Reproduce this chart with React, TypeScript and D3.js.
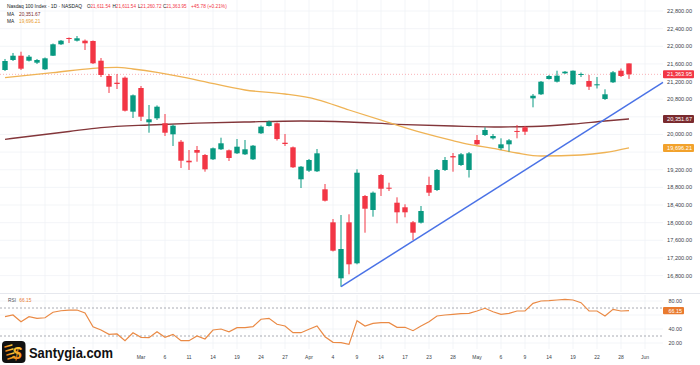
import React from 'react';
import * as d3 from 'd3';

// trading days shown (2025)
const dates = [
  '02-05', '02-06', '02-07', '02-10', '02-11', '02-12', '02-13', '02-14', '02-18', '02-19', '02-20', '02-21',
  '02-24', '02-25', '02-26', '02-27', '02-28',
  '03-03', '03-04', '03-05', '03-06', '03-07', '03-10', '03-11', '03-12', '03-13', '03-14', '03-17', '03-18',
  '03-19', '03-20', '03-21', '03-24', '03-25', '03-26', '03-27', '03-28', '03-31',
  '04-01', '04-02', '04-03', '04-04', '04-07', '04-08', '04-09', '04-10', '04-11', '04-14', '04-15', '04-16',
  '04-17', '04-21', '04-22', '04-23', '04-24', '04-25', '04-28', '04-29', '04-30',
  '05-01', '05-02', '05-05', '05-06', '05-07', '05-08', '05-09', '05-12', '05-13', '05-14', '05-15', '05-16',
  '05-19', '05-20', '05-21', '05-22', '05-23', '05-27', '05-28', '05-29',
];

const open = [
  21462, 21689, 21786, 21673, 21628, 21478, 21786, 22045, 22188, 22127, 22127, 22120,
  21673, 21326, 21174, 21288, 20517,
  21054, 20276, 20367, 20254, 20004, 19836, 19405, 19648, 19535, 19437, 19664, 19641,
  19573, 19550, 19437, 20027, 20192, 20254, 19813, 19709, 18984,
  19179, 19165, 18757, 18008, 16739, 18008, 17079, 18605, 18288, 19081, 18793, 18453,
  18349, 18009, 18000, 18854, 18741, 19195, 19510, 19308, 19195,
  19875, 19988, 19913, 19687, 19777, 20080, 20163, 20820, 20911, 21258, 21197, 21387,
  21138, 21360, 21213, 21115, 20805, 21183, 21446, 21611.54,
];
const high = [
  21712, 21848, 21877, 21802, 21712, 21746, 22063, 22142, 22199, 22233, 22154, 22131,
  21734, 21371, 21371, 21315, 20907,
  21099, 20668, 20659, 20464, 20226, 19875, 19648, 19739, 19557, 19705, 19927, 19659,
  19897, 19875, 19761, 20204, 20317, 20272, 20011, 19727, 19285,
  19444, 19671, 18877, 18083, 18174, 18190, 19210, 18628, 18707, 19104, 18906, 18575,
  18417, 18038, 18378, 19043, 19217, 19489, 19580, 19580, 19603,
  19988, 20163, 20011, 19913, 19897, 20215, 20192, 20918, 21213, 21349, 21446, 21439,
  21451, 21405, 21349, 21303, 21024, 21439, 21496, 21611.54,
];
const low = [
  21439, 21666, 21462, 21655, 21598, 21462, 21780, 22029, 22074, 22108, 21916, 21598,
  21303, 20941, 21031, 20521, 20374,
  20306, 20040, 20328, 19966, 19739, 19240, 19195, 19383, 19156, 19421, 19648, 19399,
  19557, 19535, 19421, 20011, 20181, 19863, 19739, 19240, 18786,
  19149, 19149, 18480, 17347, 16548, 16829, 17056, 17773, 18136, 18605, 18718, 17986,
  18122, 17607, 17981, 18605, 18718, 19172, 19156, 19285, 19024,
  19761, 19965, 19886, 19648, 19610, 19913, 19988, 20616, 20895, 21247, 21179, 21371,
  21122, 21303, 21009, 21043, 20782, 21167, 21303, 21260.72,
];
const close = [
  21666, 21786, 21492, 21764, 21689, 21727, 22045, 22127, 22165, 22181, 22068, 21614,
  21349, 21083, 21145, 20539, 20888,
  20403, 20344, 20630, 20040, 20199, 19405, 19369, 19587, 19210, 19687, 19800, 19467,
  19723, 19664, 19746, 20177, 20290, 19897, 19784, 19256, 19270,
  19421, 19573, 18498, 17365, 17403, 17056, 19133, 18317, 18680, 18770, 18770, 18235,
  18235, 17773, 18265, 18680, 19195, 19421, 19480, 19551, 19573,
  19777, 20102, 19965, 19777, 19868, 20060, 20063, 20879, 21197, 21326, 21333, 21424,
  21446, 21372, 21083, 21138, 20911, 21410, 21326, 21363.95,
];

// moving averages: bar index and value
const maFastIdx = [0, 6, 11, 14, 16, 19, 24, 30, 35, 39, 43, 48, 52, 56, 58, 61, 64, 67, 72, 75, 78];
const maFastVal = [21288, 21401, 21501, 21523, 21485, 21410, 21235, 21009, 20918, 20793, 20555, 20267, 20045,
  19859, 19777, 19687, 19580, 19512, 19535, 19591, 19696.21];
const maSlowIdx = [0, 8, 12, 18, 24, 30, 37, 43, 49, 56, 62, 66, 71, 75, 78];
const maSlowVal = [19891, 20068, 20154, 20215, 20256, 20283, 20306, 20283, 20231, 20192, 20170, 20181, 20238,
  20306, 20351.67];

// trend line anchors (bar index, price)
const trendIdx = [42, 78];
const trendVal = [16548, 20690];

const rsi = [
  57.6, 60.0, 50.4, 57.6, 55.3, 56.1, 63.9, 66.1, 67.1, 67.1, 62.9, 43.3, 38.6, 32.4, 32.9, 23.3, 34.7,
  28.1, 27.6, 36.1, 28.1, 32.4, 23.3, 23.3, 30.0, 25.7, 38.6, 40.0, 36.1, 41.9, 41.9, 43.3, 53.9, 55.3,
  46.7, 44.3, 34.7, 34.7, 39.6, 44.3, 29.0, 21.0, 20.4, 18.0, 51.9, 44.3, 48.1, 49.0, 49.0, 42.4, 42.4,
  37.6, 44.3, 50.4, 58.6, 60.0, 61.0, 61.9, 62.4, 65.7, 69.6, 64.7, 61.0, 62.4, 65.7, 65.7, 76.7, 80.0,
  80.4, 81.4, 82.4, 81.4, 77.6, 65.7, 65.7, 58.6, 68.1, 65.7, 66.15,
];

const priceTicks = [22800, 22400, 22000, 21600, 21200, 20800, 20400, 20000, 19600, 19200, 18800, 18400,
  18000, 17600, 17200, 16800];
const rsiTicks = [80, 60, 40, 20];
const timeTickIdx = [2, 5, 8, 11, 14, 17, 20, 23, 26, 29, 32, 35, 38, 41, 44, 47, 50, 53, 56, 59, 62, 65, 68,
  71, 74, 77, 80];
const timeTickText = ['', '', '', '', '', 'Mar', '6', '11', '14', '19', '24', '27', 'Apr', '4', '9', '14', '17',
  '23', '28', 'May', '6', '9', '14', '19', '22', '28', 'Jun'];

const UP = '#089981';
const DOWN = '#f23645';
const FONT = '"Liberation Sans", Arial, sans-serif';

const W = 700, H = 365;
const plotRight = 663;

const fmt = d3.format(',.2f');

export default function App() {
  const x = d3.scaleLinear().domain([0, 78]).range([5, 629]);
  const y = d3.scaleLinear().domain([16800, 22800]).range([275.6, 11]);
  const yr = d3.scaleLinear().domain([20, 80]).range([343, 301]);

  const maLine = d3.line<number>().curve(d3.curveMonotoneX);
  const fastPath = maLine(maFastIdx.map((i, k) => [x(i), y(maFastVal[k])]) as any);
  const slowPath = maLine(maSlowIdx.map((i, k) => [x(i), y(maSlowVal[k])]) as any);
  const rsiPath = d3.line<number>()((rsi.map((v, i) => [x(i), yr(v)])) as any);

  // extend trend line to the price scale
  const slope = (trendVal[1] - trendVal[0]) / (trendIdx[1] - trendIdx[0]);
  const endIdx = x.invert(plotRight);
  const trendEnd = trendVal[1] + slope * (endIdx - trendIdx[1]);

  const last = close.length - 1;
  const bw = 5.4;

  const boxes = [
    { v: close[last], color: DOWN },
    { v: maSlowVal[maSlowVal.length - 1], color: '#7a2a2e' },
    { v: maFastVal[maFastVal.length - 1], color: '#f2a22c' },
  ];
  // price labels hidden behind the value boxes
  const shownTicks = priceTicks.filter(t => boxes.every(b => Math.abs(y(t) - y(b.v)) > 7));
  const shownRsiTicks = rsiTicks.filter(t => Math.abs(yr(t) - yr(rsi[last])) > 6);

  const lf = 4.8;
  const ohlc = [
    { k: 'O', v: open[last], x: 87 },
    { k: 'H', v: high[last], x: 112.5 },
    { k: 'L', v: low[last], x: 138 },
    { k: 'C', v: close[last], x: 163 },
  ];

  return (
    <svg width={W} height={H} style={{ position: 'absolute', left: 0, top: 0, background: '#fff' }}
      fontFamily={FONT}>
      <rect width={W} height={H} fill="#fff" />
      {/* grid */}
      {priceTicks.map(t => (
        <line key={'gh' + t} x1={0} x2={plotRight} y1={y(t)} y2={y(t)} stroke="#f0f2f6" strokeWidth={0.8} />
      ))}
      {timeTickIdx.map(i => (
        <g key={'gv' + i}>
          <line x1={x(i)} x2={x(i)} y1={0} y2={292} stroke="#f0f2f6" strokeWidth={0.8} />
          <line x1={x(i)} x2={x(i)} y1={295} y2={349} stroke="#f0f2f6" strokeWidth={0.8} />
        </g>
      ))}
      {rsiTicks.map(t => (
        <line key={'gr' + t} x1={0} x2={plotRight} y1={yr(t)} y2={yr(t)} stroke="#f0f2f6" strokeWidth={0.8} />
      ))}

      {/* pane separator */}
      <line x1={0} x2={W} y1={293.5} y2={293.5} stroke="#e6e8ee" strokeWidth={1} />

      {/* current price line */}
      <line x1={0} x2={plotRight} y1={y(close[last])} y2={y(close[last])} stroke={DOWN} strokeOpacity={0.55}
        strokeWidth={0.7} strokeDasharray="1,2" />

      {/* moving averages */}
      <path d={slowPath || ''} fill="none" stroke="#83363a" strokeWidth={1.3} />
      <path d={fastPath || ''} fill="none" stroke="#efb355" strokeWidth={1.3} />

      {/* candles */}
      {close.map((c, i) => {
        const o = open[i];
        const col = c >= o ? UP : DOWN;
        const top = y(Math.max(o, c));
        const h = Math.max(1, y(Math.min(o, c)) - top);
        return (
          <g key={'c' + i}>
            <line x1={x(i)} x2={x(i)} y1={y(high[i])} y2={y(low[i])} stroke={col} strokeWidth={1} />
            <rect x={x(i) - bw / 2} y={top} width={bw} height={h} fill={col} />
          </g>
        );
      })}

      {/* trend line */}
      <line x1={x(trendIdx[0])} y1={y(trendVal[0])} x2={plotRight} y2={y(trendEnd)} stroke="#4a72e6"
        strokeWidth={1.5} />

      {/* price scale */}
      {shownTicks.map(t => (
        <text key={'pt' + t} x={692} y={y(t) + 2} fontSize={5.6} textAnchor="end" fill="#3b3f4a">{fmt(t)}</text>
      ))}
      {boxes.map((b, k) => (
        <g key={'b' + k}>
          <rect x={663} y={y(b.v) - 4} width={31} height={8} rx={1} fill={b.color} />
          <text x={692} y={y(b.v) + 2} fontSize={5.6} textAnchor="end" fill="#fff">{fmt(b.v)}</text>
        </g>
      ))}

      {/* RSI pane */}
      {[70, 30].map(t => (
        <line key={'rd' + t} x1={0} x2={plotRight} y1={yr(t)} y2={yr(t)} stroke="#9598a1" strokeWidth={0.8}
          strokeDasharray="2,2" />
      ))}
      <path d={rsiPath || ''} fill="none" stroke="#ea8a45" strokeWidth={1.2} />
      {shownRsiTicks.map(t => (
        <text key={'rt' + t} x={682} y={yr(t) + 2} fontSize={5.4} textAnchor="end" fill="#3b3f4a">{fmt(t)}</text>
      ))}
      <rect x={663} y={yr(rsi[last]) - 3.6} width={21} height={7.2} rx={1} fill="#e97a2e" />
      <text x={682} y={yr(rsi[last]) + 1.9} fontSize={5.4} textAnchor="end" fill="#fff">{fmt(rsi[last])}</text>
      <text x={8} y={302} fontSize={lf} fill="#50535e">RSI <tspan fill="#e97a2e" dx={2}>{fmt(rsi[last])}</tspan></text>

      {/* time axis */}
      {timeTickIdx.map((i, k) => (
        <text key={'tt' + i} x={x(i)} y={359} fontSize={5} textAnchor="middle" fill="#3b3f4a">{timeTickText[k]}</text>
      ))}

      {/* legend */}
      <text x={7} y={8} fontSize={lf} fill="#131722" textLength={75} lengthAdjust="spacingAndGlyphs">
        Nasdaq 100 Index · 1D · NASDAQ</text>
      {ohlc.map(g => (
        <text key={g.k} x={g.x} y={8} fontSize={lf} fill="#131722" textLength={23.5}
          lengthAdjust="spacingAndGlyphs">{g.k}<tspan fill={DOWN}>{fmt(g.v)}</tspan></text>
      ))}
      <text x={191} y={8} fontSize={lf} fill={DOWN}>+45.78 (+0.21%)</text>
      <text x={7} y={15.5} fontSize={lf} fill="#131722">MA <tspan x={19} fill="#7a2a2e">{fmt(maSlowVal[maSlowVal.length - 1])}</tspan></text>
      <text x={7} y={23} fontSize={lf} fill="#131722">MA <tspan x={19} fill="#e89a2a">{fmt(maFastVal[maFastVal.length - 1])}</tspan></text>

      {/* logo */}
      <defs>
        <linearGradient id="logoGrad" x1="0" y1="0" x2="0" y2="1">
          <stop offset="0%" stopColor="#ffd23a" />
          <stop offset="100%" stopColor="#f07a12" />
        </linearGradient>
      </defs>
      <rect x={2} y={341} width={23.5} height={22} rx={4} fill="#111" />
      {[346, 350, 354, 358].map((yy, k) => (
        <line key={'sl' + k} x1={5 + k} x2={12 + k} y1={yy + 1} y2={yy - 1} stroke="url(#logoGrad)" strokeWidth={1.4}
          strokeLinecap="round" />
      ))}
      <text x={17} y={359} fontSize={17} fontWeight={700} textAnchor="middle" fill="url(#logoGrad)"
        fontStyle="italic">$</text>
      <text x={29} y={357.5} fontSize={14} fontWeight={700} fill="#111" textLength={84}
        lengthAdjust="spacingAndGlyphs">Santygia.com</text>
    </svg>
  );
}
